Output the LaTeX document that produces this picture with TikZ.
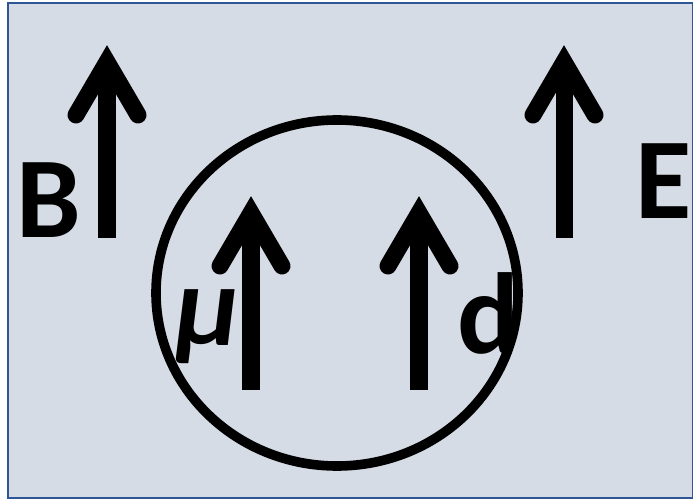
\documentclass[tikz,border=0pt]{standalone}
\usepackage{fontspec}
\setmainfont{Carlito}
\usetikzlibrary{calc}
\definecolor{panelbg}{RGB}{214,220,229}
\definecolor{panelline}{RGB}{47,85,151}
\tikzset{
  shaft/.style={line width=0.425cm, line cap=butt},
  barb/.style={line width=0.425cm, line cap=round, line join=miter},
  ring/.style={line width=0.24cm},
  sym/.style={inner sep=0pt, font=\fontsize{82}{90}\selectfont\bfseries},
}

\begin{document}
\begin{tikzpicture}[x=0.025cm, y=-0.025cm]
  \useasboundingbox (0,0) rectangle (693,499);
  \draw[panelline, fill=panelbg, line width=0.07cm] (8,3) rectangle (693,498);
  \draw[ring] (337,293) ellipse [x radius=181, y radius=173];
  % field vectors: name/x/apex/foot
  \foreach \v/\x/\t/\b in {B/107/62/238, E/564/62/238, mu/251/213/390, d/419/213/390}{
    \coordinate (\v tip) at (\x,\t);
    \coordinate (\v foot) at (\x,\b);
    \draw[shaft] (\v foot) -- (\v tip);
    \draw[barb] ($(\v tip)+(-31,53)$) -- (\v tip) -- ($(\v tip)+(31,53)$);
  }
  \node[sym] (Blab) at (48.5,200.5) {B};
  \node[sym] (Elab) at (664,181) {E};
  \node[sym] (mulab) at (207,327) {\itshape μ};
  \node[sym] (dlab) at (488,313) {d};
\end{tikzpicture}
\end{document}
